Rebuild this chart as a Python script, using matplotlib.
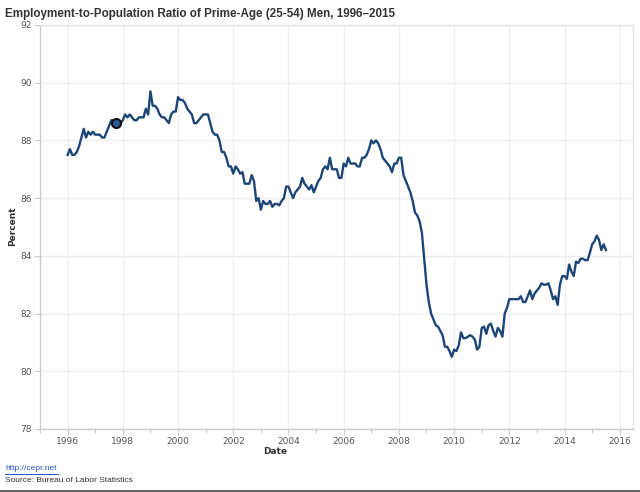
import numpy as np
import pandas as pd
import matplotlib
matplotlib.use("Agg")
import matplotlib.pyplot as plt
from matplotlib.ticker import MultipleLocator

# monthly values, Jan 1996 .. Jul 2015
y1996 = [87.5, 87.7, 87.5, 87.5, 87.6, 87.8, 88.1, 88.4, 88.1, 88.3, 88.2, 88.3]
y1997 = [88.2, 88.2, 88.2, 88.1, 88.1, 88.3, 88.5, 88.7, 88.7, 88.6, 88.6, 88.6]
y1998 = [88.7, 88.9, 88.8, 88.9, 88.8, 88.7, 88.7, 88.8, 88.8, 88.8, 89.1, 88.9]
y1999 = [89.7, 89.2, 89.2, 89.1, 88.9, 88.8, 88.8, 88.7, 88.6, 88.9, 89.0, 89.0]
y2000 = [89.5, 89.4, 89.4, 89.3, 89.1, 89.0, 88.9, 88.6, 88.6, 88.7, 88.8, 88.9]
y2001 = [88.9, 88.9, 88.6, 88.3, 88.2, 88.2, 88.0, 87.6, 87.6, 87.4, 87.1, 87.1]
y2002 = [86.85, 87.1, 87.0, 86.85, 86.9, 86.5, 86.5, 86.5, 86.8, 86.6, 85.9, 86.0]
y2003 = [85.6, 85.9, 85.8, 85.8, 85.9, 85.7, 85.8, 85.8, 85.75, 85.9, 86.0, 86.4]
y2004 = [86.4, 86.2, 86.0, 86.2, 86.3, 86.4, 86.7, 86.5, 86.4, 86.3, 86.45, 86.2]
y2005 = [86.4, 86.6, 86.7, 87.0, 87.1, 87.0, 87.4, 87.0, 87.0, 87.0, 86.7, 86.7]
y2006 = [87.2, 87.1, 87.4, 87.2, 87.2, 87.2, 87.1, 87.1, 87.4, 87.4, 87.5, 87.7]
y2007 = [88.0, 87.9, 88.0, 87.9, 87.7, 87.4, 87.3, 87.2, 87.1, 86.9, 87.2, 87.2]
y2008 = [87.4, 87.4, 86.8, 86.6, 86.4, 86.2, 85.9, 85.5, 85.4, 85.2, 84.8, 83.9]
y2009 = [83.0, 82.4, 82.0, 81.8, 81.6, 81.55, 81.4, 81.25, 80.85, 80.85, 80.7, 80.5]
y2010 = [80.75, 80.7, 80.9, 81.35, 81.15, 81.15, 81.2, 81.25, 81.2, 81.1, 80.75, 80.85]
y2011 = [81.5, 81.55, 81.3, 81.6, 81.65, 81.4, 81.2, 81.5, 81.4, 81.2, 82.0, 82.2]
y2012 = [82.5, 82.5, 82.5, 82.5, 82.5, 82.6, 82.4, 82.4, 82.6, 82.8, 82.5, 82.7]
y2013 = [82.8, 82.9, 83.05, 83.0, 83.0, 83.05, 82.8, 82.5, 82.6, 82.3, 83.0, 83.3]
y2014 = [83.3, 83.2, 83.7, 83.45, 83.3, 83.8, 83.75, 83.9, 83.9, 83.85, 83.85, 84.1]
y2015 = [84.4, 84.5, 84.7, 84.55, 84.2, 84.4, 84.2]

values = (y1996 + y1997 + y1998 + y1999 + y2000 + y2001 + y2002 + y2003 + y2004 + y2005
          + y2006 + y2007 + y2008 + y2009 + y2010 + y2011 + y2012 + y2013 + y2014 + y2015)
dates = pd.date_range("1996-01-01", periods=len(values), freq="MS")
years = dates.year + (dates.month - 1) / 12.0

# highlighted point (Oct 1997)
mark_date = 1997 + 9 / 12.0
mark_value = 88.6

line_color = "#1d4677"
grid_color = "#eeeeee"
text_color = "#555555"

fig = plt.figure(figsize=(6.4, 4.92), dpi=100)
ax = fig.add_axes([40 / 640, 1 - 429 / 492, 593 / 640, 404 / 492])

ax.plot(years, values, color=line_color, lw=1.7, solid_joinstyle="round", zorder=3)
ax.plot([mark_date], [mark_value], "o", ms=6.5, mfc="#2a5a94", mec="#111111", mew=1.5, zorder=4)

ax.set_xlim(1995.0, 2016.48)
ax.set_ylim(78, 92)
ax.xaxis.set_major_locator(MultipleLocator(2))
ax.xaxis.set_minor_locator(MultipleLocator(1))
ax.yaxis.set_major_locator(MultipleLocator(2))
ax.grid(True, which="major", color=grid_color, lw=1.0, zorder=0)

for side in ["top", "right"]:
    ax.spines[side].set_color("#e4e4e4")
    ax.spines[side].set_linewidth(1.0)
for side in ["left", "bottom"]:
    ax.spines[side].set_color("#cccccc")
    ax.spines[side].set_linewidth(1.0)

ax.tick_params(axis="both", which="major", labelsize=6.5, labelcolor=text_color,
               color="#cccccc", length=4, width=0.8, pad=2)
ax.tick_params(axis="x", which="minor", color="#cccccc", length=3, width=0.8)

# axis titles placed where the reference has them
fig.text(275 / 640, 1 - 451 / 492, "Date", fontsize=6.5, fontweight="bold", color="#333333",
         ha="center", va="center")
fig.text(13 / 640, 1 - 226 / 492, "Percent", fontsize=6.5, fontweight="bold", color="#333333",
         ha="center", va="center", rotation=90)

fig.text(5 / 640, 1 - 14 / 492, "Employment-to-Population Ratio of Prime-Age (25-54) Men, 1996\u20132015",
         fontsize=8.4, fontweight="bold", family="Liberation Sans", color="#333333",
         va="center", ha="left")

fig.text(5 / 640, 1 - 469 / 492, "http://cepr.net", fontsize=6.0, family="Liberation Sans",
         color="#2255cc", va="center", ha="left")
fig.add_artist(plt.Line2D([5 / 640, 58 / 640], [1 - 474 / 492, 1 - 474 / 492], color="#2255cc", lw=0.7))
fig.text(5 / 640, 1 - 481 / 492, "Source: Bureau of Labor Statistics", fontsize=6.0,
         family="Liberation Sans", color="#333333", va="center", ha="left")
fig.add_artist(plt.Line2D([0, 1], [1 / 492, 1 / 492], color="#666666", lw=1.5))

fig.savefig("out.png", dpi=100)
